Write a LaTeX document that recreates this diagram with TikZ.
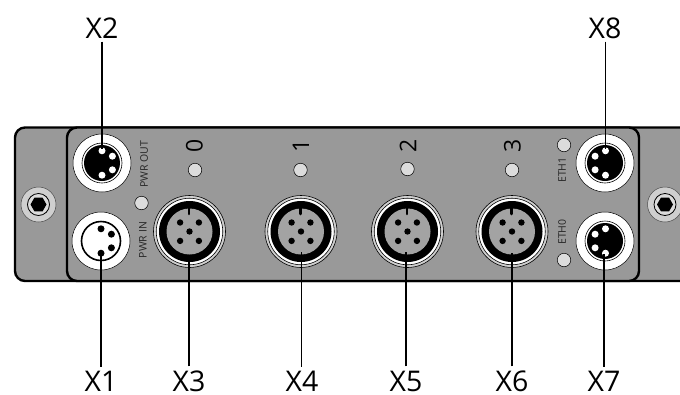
\documentclass[tikz,border=0pt]{standalone}
\usepackage{fontspec}
\setmainfont{Open Sans}
\usetikzlibrary{shapes.geometric}
\definecolor{plate}{HTML}{999999}
\definecolor{ledc}{HTML}{DCDCDC}
\definecolor{ringc}{HTML}{CFCFCF}
\tikzset{
 x=1pt,y=-1pt,
 plateline/.style={draw=black,line width=2.4pt,fill=plate,rounded corners=10pt},
 led/.style={circle,draw=black,line width=.5pt,fill=ledc,minimum size=13.5pt,inner sep=0pt},
 bigtext/.style={font=\fontsize{28.5}{29}\selectfont,inner sep=0pt},
 ledtext/.style={font=\fontsize{23}{24}\selectfont,rotate=90,inner sep=0pt},
 smalltext/.style={font=\fontsize{10.5}{12}\selectfont,rotate=90,inner sep=0pt,text=black!85},
 leader/.style={draw=black,line width=1.3pt},
 socket/.style={circle,draw=black,line width=.5pt,fill=white,minimum size=58pt,inner sep=0pt},
}
\newcommand{\mfour}[4]{% x y dir pincolour
 \fill[#4] (#1,#2-12.2) circle (3.5) (#1,#2+12.2) circle (3.5)
  (#1+#3*10.4,#2-6.8) circle (3.5) (#1+#3*10.4,#2+6.8) circle (3.5);
}
\newcommand{\meight}[3]{% name x y
 \node[circle,draw=black,line width=.6pt,fill=ringc,minimum size=72pt,inner sep=0pt] at (#2,#3) {};
 \node[circle,draw=black,line width=.6pt,fill=white,minimum size=66.5pt,inner sep=0pt] at (#2,#3) {};
 \node[circle,fill=black,minimum size=61pt,inner sep=0pt] at (#2,#3) {};
 \node[circle,fill=plate!90!white,minimum size=46pt,inner sep=0pt] (#1) at (#2,#3) {};
 \draw[black,line width=2.6pt,line cap=round] (#2-.5,#3-24) -- (#2-.5,#3-17.5);
 \fill[black] (#2,#3) circle (3.2) (#2-9.4,#3-9) circle (3.2) (#2+9.4,#3-9) circle (3.2)
  (#2-9.4,#3+9.4) circle (3.2) (#2+9.4,#3+9.4) circle (3.2);
}
\newcommand{\screw}[2]{%
 \node[circle,draw=black!70,line width=.5pt,fill=ringc,minimum size=35pt,inner sep=0pt] at (#1,#2) {};
 \node[circle,draw=black,line width=.8pt,fill=ledc,minimum size=22pt,inner sep=0pt] at (#1,#2) {};
 \node[regular polygon,regular polygon sides=6,fill=black,minimum size=16pt,inner sep=0pt] at (#1,#2) {};
}
\begin{document}
\begin{tikzpicture}
\useasboundingbox (0,0) rectangle (680,394);
% plates
\draw[plateline] (15,127.5) rectangle (700,281);
\draw[plateline] (67,127.5) rectangle (639,281);
\screw{38.5}{204.5}
\screw{665}{204.5}
% X2
\node[socket] (c2) at (102,163) {};
\draw[black,line width=.6pt] (102,163) circle (20);
\fill[black] (102,163) circle (18);
\mfour{102}{163}{1}{white}
% X1
\node[socket] (c1) at (101,241) {};
\draw[black,line width=1.6pt] (101,241) circle (19.5);
\mfour{101}{241}{1}{black}
% X8
\node[socket] (c8) at (605,163) {};
\draw[black,line width=.6pt] (605,163) circle (20);
\fill[black] (605,163) circle (18);
\mfour{605.5}{163}{-1}{white}
% X7
\node[socket] (c7) at (605,241) {};
\draw[black,line width=.6pt] (605,241) circle (20);
\fill[black] (605,241) circle (18);
\mfour{605.5}{241}{-1}{white}
% M12
\meight{c3}{189.5}{231.5}
\meight{c4}{301}{231.5}
\meight{c5}{407.5}{231.5}
\meight{c6}{512}{231.5}
% LEDs
\node[led] (l0) at (195,170) {};
\node[led] (l1) at (300.5,170) {};
\node[led] (l2) at (407.5,169) {};
\node[led] (l3) at (512,170) {};
\node[led] (lp) at (141.5,203) {};
\node[led] (le1) at (564,145) {};
\node[led] (le0) at (564,260) {};
% texts
\node[ledtext] (t0) at (194.5,146) {0};
\node[ledtext] (t1) at (301,146) {1};
\node[ledtext] (t2) at (408,146) {2};
\node[ledtext] (t3) at (512.5,146) {3};
\node[smalltext] (pout) at (144,164) {PWR OUT};
\node[smalltext] (pin) at (143,240) {PWR IN};
\node[smalltext] (eth1) at (562,170) {ETH1};
\node[smalltext] (eth0) at (562,232) {ETH0};
% labels
\node[bigtext] (X2) at (102,28) {X2};
\node[bigtext] (X8) at (605,28) {X8};
\node[bigtext] (X1) at (101,381) {X1};
\node[bigtext] (X3) at (189,381) {X3};
\node[bigtext] (X4) at (302,381) {X4};
\node[bigtext] (X5) at (406,381) {X5};
\node[bigtext] (X6) at (512,381) {X6};
\node[bigtext] (X7) at (604,381) {X7};
% leader ends
\coordinate (e2) at (102,149);
\coordinate (e8) at (605.5,149);
\coordinate (e1) at (101,254);
\coordinate (e3) at (189,255);
\coordinate (e4) at (301.5,252);
\coordinate (e5) at (406,252);
\coordinate (e6) at (512,253);
\coordinate (e7) at (604,254);
\draw[leader] (X2.south -| e2) ++(0,3) -- (e2);
\draw[leader] (X8.south -| e8) ++(0,3) -- (e8);
\draw[leader] (X1.north -| e1) ++(0,-4) -- (e1);
\draw[leader] (X3.north -| e3) ++(0,-4) -- (e3);
\draw[leader] (X4.north -| e4) ++(0,-4) -- (e4);
\draw[leader] (X5.north -| e5) ++(0,-4) -- (e5);
\draw[leader] (X6.north -| e6) ++(0,-4) -- (e6);
\draw[leader] (X7.north -| e7) ++(0,-4) -- (e7);
\end{tikzpicture}
\end{document}
